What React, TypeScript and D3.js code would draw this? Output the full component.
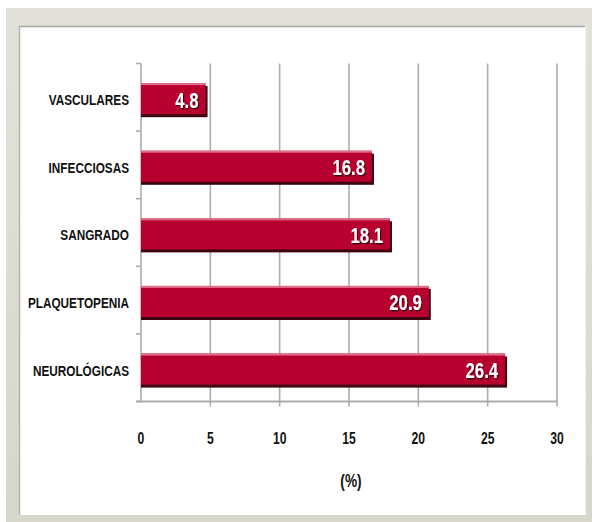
import React from "react";
import * as d3 from "d3";

const categories = ["VASCULARES", "INFECCIOSAS", "SANGRADO", "PLAQUETOPENIA", "NEUROLÓGICAS"];
const values = [4.8, 16.8, 18.1, 20.9, 26.4];
const xTicks = [0, 5, 10, 15, 20, 25, 30];
const xTitle = "(%)";

const W = 592;
const H = 522;
const FONT = "'Liberation Sans', Arial, sans-serif";
// horizontal squeeze that gives the bold sans a condensed look
const NARROW = 0.76;

type LabelProps = {
  x: number;
  y: number;
  anchor: "start" | "middle" | "end";
  size: number;
  fill: string;
  filter?: string;
  children: React.ReactNode;
};

function Narrow({ x, y, anchor, size, fill, filter, children }: LabelProps) {
  return (
    <g transform={`translate(${x},${y}) scale(${NARROW},1)`}>
      <text
        x={0}
        y={0}
        textAnchor={anchor}
        dominantBaseline="central"
        fill={fill}
        fontFamily={FONT}
        fontWeight="bold"
        fontSize={size}
        filter={filter}
      >
        {children}
      </text>
    </g>
  );
}

export default function App() {
  const x = d3.scaleLinear().domain([0, 30]).range([141, 557]);
  const y = d3.scaleBand<string>().domain(categories).range([63.5, 401.5]).padding(0);
  const step = y.step();
  const barTop = (c: string) => (y(c) as number) + step * 0.29;
  const barH = step * 0.46;
  const axisY = 401.5;
  const bandEdges = categories.map((c) => y(c) as number).concat([axisY]);

  return (
    <div style={{ position: "absolute", left: 0, top: 0 }}>
      <svg width={W} height={H} viewBox={`0 0 ${W} ${H}`} style={{ display: "block" }}>
        <defs>
          <filter id="txtShadow" x="-20%" y="-20%" width="140%" height="140%">
            <feDropShadow dx="1.5" dy="1.5" stdDeviation="0.6" floodColor="#3a0010" floodOpacity="0.9" />
          </filter>
          <linearGradient id="frameTop" x1="0" y1="0" x2="0" y2="1">
            <stop offset="0" stopColor="#e2e2da" />
            <stop offset="1" stopColor="#d6d6cc" />
          </linearGradient>
        </defs>

        {/* page and frame */}
        <rect x={0} y={0} width={W} height={H} fill="#ffffff" />
        <rect x={6} y={8} width={W - 6} height={H - 8} fill="url(#frameTop)" />
        <rect x={19} y={26} width={566} height={489} fill="#ffffff" />
        <line x1={19} y1={26.5} x2={585} y2={26.5} stroke="#a8a8a0" strokeWidth={1.5} />
        <line x1={19.5} y1={26} x2={19.5} y2={515} stroke="#b4b4ac" strokeWidth={1.5} />
        <line x1={585.5} y1={26} x2={585.5} y2={515} stroke="#f4f4f0" strokeWidth={1} />

        {/* vertical gridlines */}
        {xTicks.map((t) => (
          <line
            key={`g${t}`}
            x1={x(t)}
            x2={x(t)}
            y1={63.5}
            y2={t === 0 ? axisY : axisY + 5}
            stroke="#adadad"
            strokeWidth={1.6}
          />
        ))}

        {/* category tick marks */}
        {bandEdges.map((v, i) => (
          <line key={`yt${i}`} x1={x(0) - 5} x2={x(0)} y1={v} y2={v} stroke="#adadad" strokeWidth={1.6} />
        ))}

        {/* horizontal axis */}
        <line x1={x(0) - 5} x2={x(30) + 1} y1={axisY} y2={axisY} stroke="#adadad" strokeWidth={2} />

        {/* bars */}
        {categories.map((c, i) => {
          const top = barTop(c);
          const x0 = x(0);
          const x1 = x(values[i]);
          return (
            <g key={c}>
              <rect x={x0} y={top + 3} width={x1 - x0} height={barH} fill="#3d0610" />
              <rect x={x0} y={top} width={x1 - x0 - 2} height={barH} fill="#b8002f" />
              <rect x={x0} y={top} width={x1 - x0 - 2} height={2} fill="#e2708c" />
              <Narrow x={x1 - 9} y={top + barH / 2 + 1} anchor="end" size={22} fill="#ffffff" filter="url(#txtShadow)">
                {values[i].toFixed(1)}
              </Narrow>
              <Narrow x={129} y={top + barH / 2 + 1.5} anchor="end" size={15.5} fill="#111111">
                {c}
              </Narrow>
            </g>
          );
        })}

        {/* tick labels */}
        {xTicks.map((t) => (
          <Narrow key={`l${t}`} x={x(t)} y={438.5} anchor="middle" size={16} fill="#111111">
            {t}
          </Narrow>
        ))}

        <Narrow x={(x(0) + x(30)) / 2 + 2} y={481} anchor="middle" size={18} fill="#111111">
          {xTitle}
        </Narrow>
      </svg>
    </div>
  );
}
